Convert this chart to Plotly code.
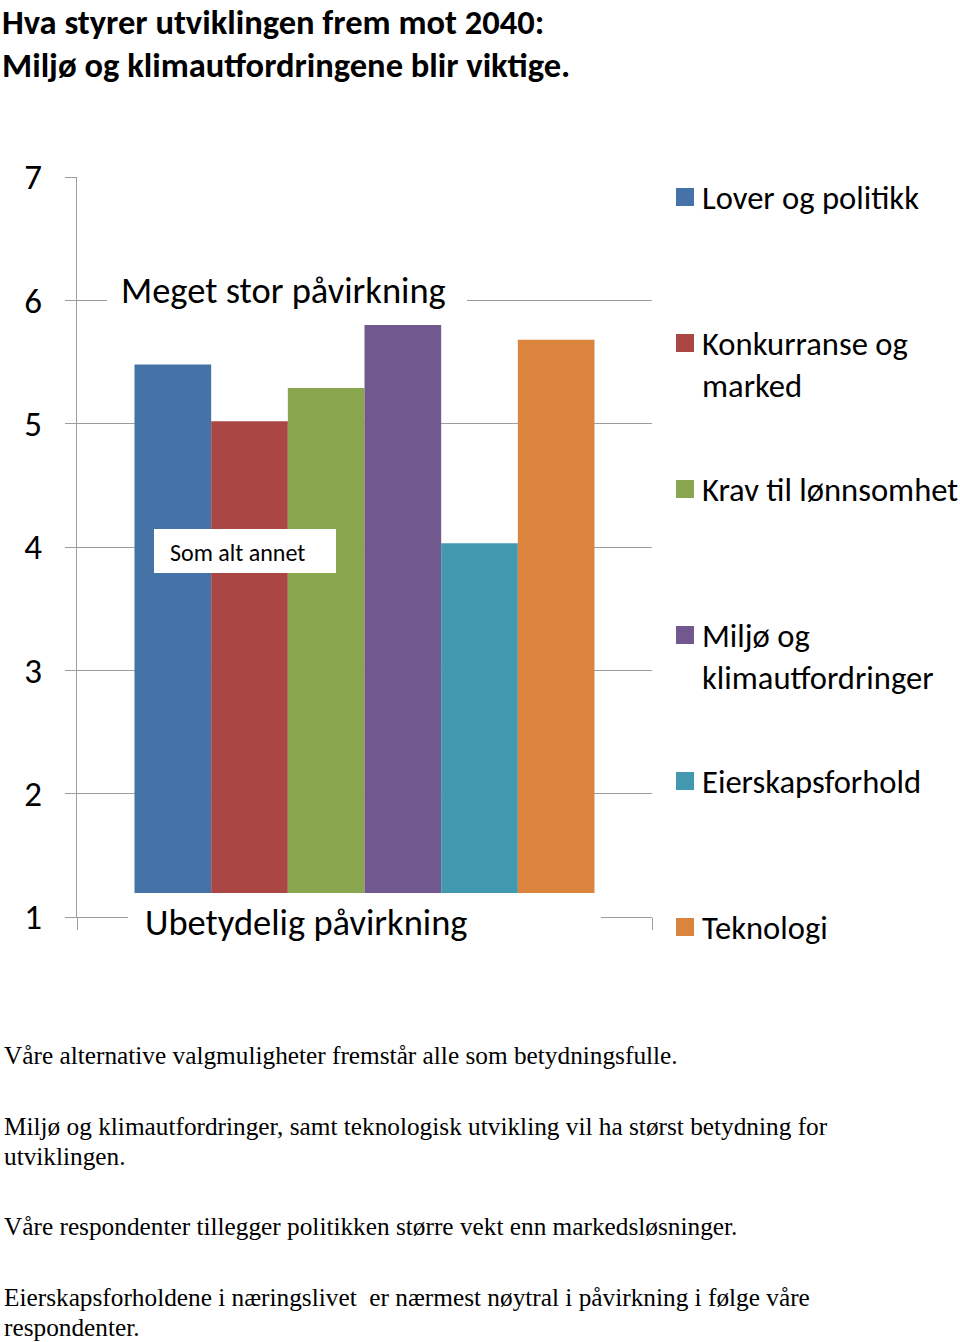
import plotly.graph_objects as go

# ---- data ----
series = ["Lover og politikk", "Konkurranse og marked", "Krav til lønnsomhet",
          "Miljø og klimautfordringer", "Eierskapsforhold", "Teknologi"]
legend_labels = ["Lover og politikk", "Konkurranse og<br>marked", "Krav til lønnsomhet",
                 "Miljø og<br>klimautfordringer", "Eierskapsforhold", "Teknologi"]
values = [5.48, 5.02, 5.29, 5.80, 4.03, 5.68]
colors = ["#4572A7", "#AA4643", "#89A54E", "#71588F", "#4198AF", "#DB843D"]
y_ticks = [1, 2, 3, 4, 5, 6, 7]
title_lines = ["Hva styrer utviklingen frem mot 2040:",
               "Miljø og klimautfordringene blir viktige."]
notes = [
    ["Våre alternative valgmuligheter fremstår alle som betydningsfulle."],
    ["Miljø og klimautfordringer, samt teknologisk utvikling vil ha størst betydning for",
     "utviklingen."],
    ["Våre respondenter tillegger politikken større vekt enn markedsløsninger."],
    ["Eierskapsforholdene i næringslivet  er nærmest nøytral i påvirkning i følge våre",
     "respondenter."],
]

W, H = 960, 1342
L, R, T, B = 77, 652, 177, 917
SANS = "Carlito, Lato, sans-serif"
SERIF = "Liberation Serif, Times New Roman, serif"
GRID = "#9d9d9d"

def px(x):
    return (x - L) / (R - L)

def py(y):
    return (B - y) / (B - T)

fig = go.Figure()
for name, v, c in zip(series, values, colors):
    fig.add_trace(go.Bar(x=[""], y=[v], name=name, marker=dict(color=c, line=dict(width=0)),
                         showlegend=False))

shapes = []
annotations = []

# white label boxes on the plot
def box(x0, y0, x1, y1):
    shapes.append(dict(type="rect", xref="paper", yref="paper", x0=px(x0), x1=px(x1),
                       y0=py(y1), y1=py(y0), fillcolor="white", line=dict(width=0),
                       layer="above"))

box(107, 270, 467, 322)
annotations.append(dict(text="Meget stor påvirkning", xref="paper", yref="paper",
                        x=px(119), y=py(290), xanchor="left", yanchor="middle",
                        showarrow=False, font=dict(family=SANS, size=36.5, color="black")))
box(128, 893, 601, 952)
annotations.append(dict(text="Ubetydelig påvirkning", xref="paper", yref="paper",
                        x=px(143), y=py(922), xanchor="left", yanchor="middle",
                        showarrow=False, font=dict(family=SANS, size=36.5, color="black")))
box(154, 529, 336, 573)
annotations.append(dict(text="Som alt annet", xref="paper", yref="paper",
                        x=px(168), y=py(552), xanchor="left", yanchor="middle",
                        showarrow=False, font=dict(family=SANS, size=24, color="black")))

# legend (manual, evenly distributed like the original)
leg_y = [197, 343, 489, 635, 781, 927]
for lab, c, yc in zip(legend_labels, colors, leg_y):
    shapes.append(dict(type="rect", xref="paper", yref="paper", x0=px(676), x1=px(694),
                       y0=py(yc + 9), y1=py(yc - 9), fillcolor=c, line=dict(width=0)))
    annotations.append(dict(text=lab, xref="paper", yref="paper", x=px(700), y=py(yc - 21),
                            xanchor="left", yanchor="top", align="left", showarrow=False,
                            font=dict(family=SANS, size=32.6, color="black")))

# title
for i, line in enumerate(title_lines):
    annotations.append(dict(text="<b>" + line + "</b>", xref="paper", yref="paper",
                            x=px(0), y=py(22 + 43 * i), xanchor="left", yanchor="middle",
                            showarrow=False, font=dict(family=SANS, size=34.5, color="black")))

# notes
note_y = [[1055], [1126, 1156], [1226], [1297, 1327]]
for para, ys in zip(notes, note_y):
    for line, yy in zip(para, ys):
        annotations.append(dict(text=line, xref="paper", yref="paper", x=px(2), y=py(yy),
                                xanchor="left", yanchor="middle", showarrow=False,
                                font=dict(family=SERIF, size=25.3, color="black")))

fig.update_layout(
    width=W, height=H,
    margin=dict(l=L, r=W - R, t=T, b=H - B, pad=0),
    paper_bgcolor="white", plot_bgcolor="white",
    barmode="group", bargap=0.2, bargroupgap=0,
    shapes=shapes, annotations=annotations,
    showlegend=False,
)
fig.update_yaxes(range=[1, 7], tickvals=y_ticks, showgrid=True, gridcolor=GRID, gridwidth=1,
                 showline=True, linecolor=GRID, linewidth=1, ticks="outside", ticklen=11,
                 tickcolor=GRID, ticklabelstandoff=16,
                 tickfont=dict(family=SANS, size=35, color="black"), zeroline=False)
fig.update_xaxes(showticklabels=False, showline=True, linecolor=GRID, linewidth=1,
                 ticks="outside", ticklen=12, tickcolor=GRID, tickson="boundaries",
                 showgrid=False)

fig.write_html("out.html")
